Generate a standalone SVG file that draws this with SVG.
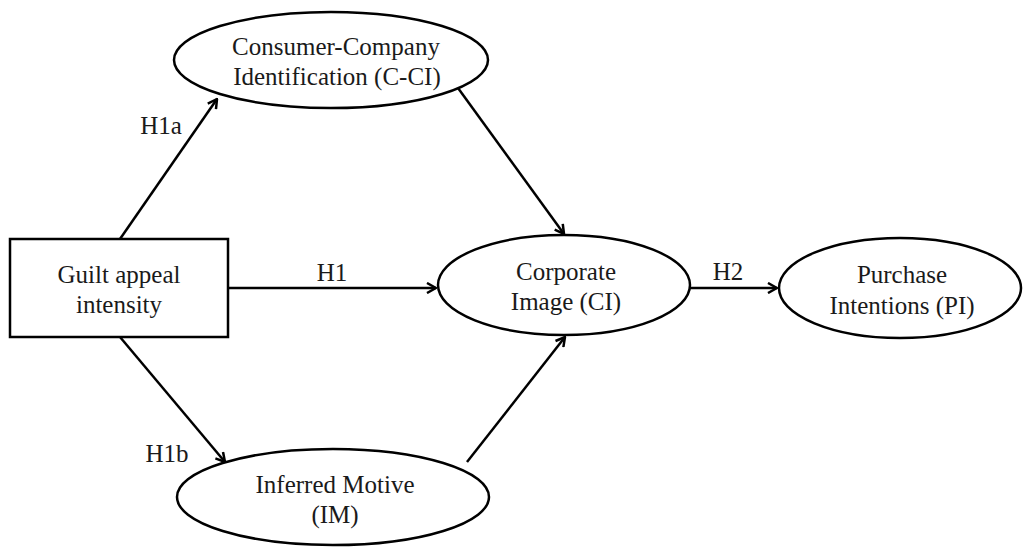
<svg xmlns="http://www.w3.org/2000/svg" width="1028" height="551" viewBox="0 0 1028 551">
  <style>
    .shape { fill: #ffffff; stroke: #000000; stroke-width: 2.5; }
    .label { font-family: "Liberation Serif", "Times New Roman", serif; font-size: 25px; fill: #1a1a1a; text-anchor: middle; }
    .edge { stroke: #000000; stroke-width: 2.5; fill: none; marker-end: url(#arrow); }
  </style>
  <defs>
    <marker id="arrow" viewBox="0 0 12 12" refX="11" refY="6" markerWidth="12" markerHeight="12" markerUnits="userSpaceOnUse" orient="auto">
      <polyline points="2,1 11,6 2,11" fill="none" stroke="#000000" stroke-width="2.5" stroke-linejoin="miter"/>
    </marker>
  </defs>
  <rect width="1028" height="551" fill="#ffffff"/>

  <g id="connectors">
    <line class="edge" x1="120" y1="239" x2="217" y2="99"/>
    <line class="edge" x1="120" y1="337" x2="225" y2="462"/>
    <line class="edge" x1="228" y1="288" x2="436" y2="288"/>
    <line class="edge" x1="690" y1="288" x2="777" y2="288"/>
    <line class="edge" x1="458" y1="88" x2="564" y2="234"/>
    <line class="edge" x1="467" y1="462" x2="565" y2="337"/>
    <text class="label" x="161" y="134">H1a</text>
    <text class="label" x="167" y="462">H1b</text>
    <text class="label" x="332" y="281">H1</text>
    <text class="label" x="728" y="280">H2</text>
  </g>

  <g id="guilt-appeal">
    <rect class="shape" x="10" y="239" width="218" height="98"/>
    <text class="label" x="119" y="283">Guilt appeal</text>
    <text class="label" x="119" y="313">intensity</text>
  </g>

  <g id="c-ci">
    <ellipse class="shape" cx="331" cy="60" rx="157" ry="48"/>
    <text class="label" x="336" y="55">Consumer-Company</text>
    <text class="label" x="337" y="85">Identification (C-CI)</text>
  </g>

  <g id="ci">
    <ellipse class="shape" cx="564" cy="285" rx="126" ry="50"/>
    <text class="label" x="566" y="280">Corporate</text>
    <text class="label" x="566" y="310">Image (CI)</text>
  </g>

  <g id="pi">
    <ellipse class="shape" cx="900" cy="288" rx="121" ry="50"/>
    <text class="label" x="902" y="283">Purchase</text>
    <text class="label" x="902" y="314">Intentions (PI)</text>
  </g>

  <g id="im">
    <ellipse class="shape" cx="333" cy="497" rx="156" ry="48"/>
    <text class="label" x="335" y="493">Inferred Motive</text>
    <text class="label" x="335" y="523">(IM)</text>
  </g>
</svg>
